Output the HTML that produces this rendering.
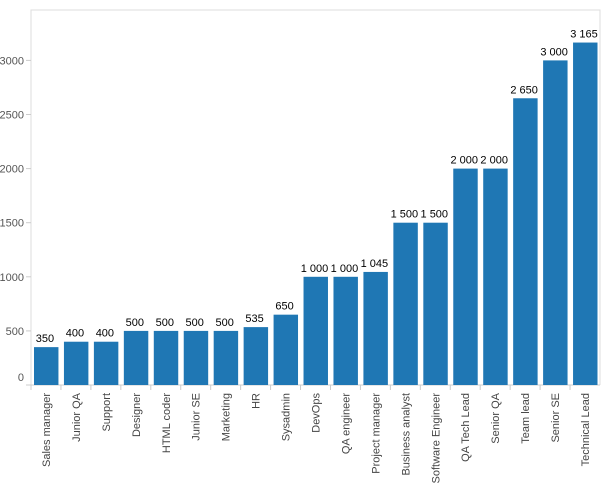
<!DOCTYPE html>
<html><head><meta charset="utf-8"><style>
html,body{margin:0;padding:0;background:#fff;}
svg text{font-family:"Liberation Sans",sans-serif;}
</style></head><body>
<svg width="602" height="487" xmlns="http://www.w3.org/2000/svg">
<g id="g"></g>
</svg>
<script>
const data=[["Sales manager",350,"350"],["Junior QA",400,"400"],["Support",400,"400"],["Designer",500,"500"],["HTML coder",500,"500"],["Junior SE",500,"500"],["Marketing",500,"500"],["HR",535,"535"],["Sysadmin",650,"650"],["DevOps",1000,"1 000"],["QA engineer",1000,"1 000"],["Project manager",1045,"1 045"],["Business analyst",1500,"1 500"],["Software Engineer",1500,"1 500"],["QA Tech Lead",2000,"2 000"],["Senior QA",2000,"2 000"],["Team lead",2650,"2 650"],["Senior SE",3000,"3 000"],["Technical Lead",3165,"3 165"]];
const L=31,R=600,T=10,B=385,k=54.1/500,bw=(R-L)/19;
let s='';
s+=`<polyline points="${L},${B} ${L},${T} ${R},${T} ${R},${B}" fill="none" stroke="#ddd"/>`;
s+=`<line x1="${L}" y1="${B}" x2="${R}" y2="${B}" stroke="#ccc"/>`;
for(let v=0;v<=3000;v+=500){const y=B-v*k;const ty=v==0?y-4:y+4;s+=`<line x1="26" x2="${L}" y1="${y}" y2="${y}" stroke="#ccc"/><text x="24" y="${ty}" font-size="11" fill="#555" text-anchor="end">${v}</text>`;}
data.forEach((d,i)=>{const x=L+i*bw;const h=d[1]*k;
s+=`<rect x="${x+3}" y="${B-h}" width="${bw-5.5}" height="${h}" fill="#1f77b4"/>`;
s+=`<text x="${x+bw/2-1}" y="${B-h-5}" font-size="11" fill="#000" text-anchor="middle">${d[2]}</text>`;
s+=`<line x1="${x}" x2="${x}" y1="${B}" y2="${B+5}" stroke="#ccc"/>`;
s+=`<text transform="translate(${x+bw/2+4},${B+8}) rotate(-90)" font-size="11" fill="#444" text-anchor="end">${d[0]}</text>`;});
document.getElementById('g').innerHTML=s;
</script>
</body></html>
